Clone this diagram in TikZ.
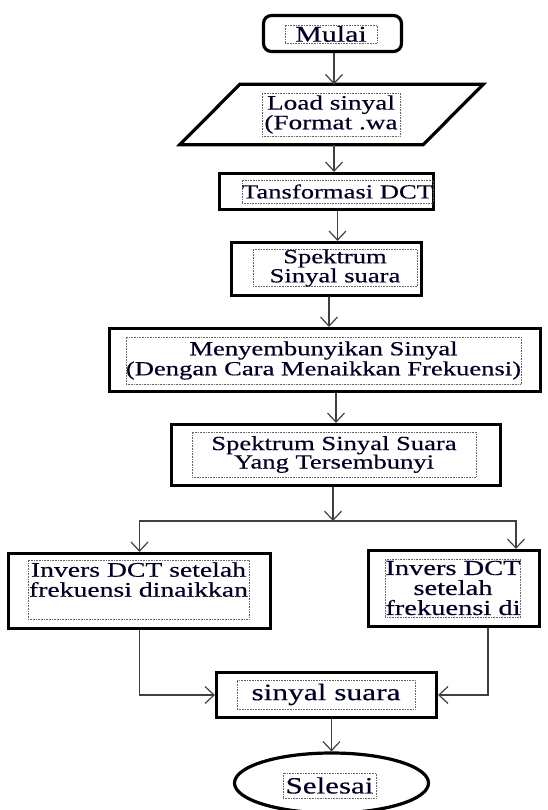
\documentclass[tikz,border=0pt]{standalone}
\usepackage{fontspec}
\setmainfont{Liberation Serif}[FakeStretch=1.33, FakeBold=0.4]
\usepackage{tikz}
\usetikzlibrary{positioning, arrows.meta, shapes.geometric}

\begin{document}
\begin{tikzpicture}[x=1pt, y=-1pt,
    kotak/.style={draw, line width=3.2pt, inner sep=0pt},
    terminal/.style={kotak, rounded corners=8pt},
    akhir/.style={kotak, ellipse},
    teks/.style={draw=black!60, densely dotted, line width=0.6pt, inner sep=0pt, align=center, text=black!85!blue, font=\fontsize{20}{19.5}\selectfont},
    arr/.style={-{Straight Barb[length=9pt, width=17pt]}, line width=1.2pt, draw=black!75},
]
\useasboundingbox (0,0) rectangle (548,810);

% --- Shapes ---
\node[terminal, minimum width=138pt, minimum height=36pt] (mulai) at (332.5, 33.5) {};
\node[minimum width=243pt, minimum height=60pt, inner sep=0pt] (load) at (331.5, 114.5) {};
\draw[kotak] ([xshift=-30pt]load.south west) -- ([xshift=-30pt]load.south east)
    -- ([xshift=30pt]load.north east) -- ([xshift=30pt]load.north west) -- cycle;
\node[kotak, minimum width=214pt, minimum height=36pt] (tdct) at (326.5, 191.5) {};
\node[kotak, minimum width=190pt, minimum height=53pt] (spek) at (326.5, 269) {};
\node[kotak, minimum width=431pt, minimum height=63pt] (sembunyi) at (325, 360) {};
\node[kotak, minimum width=329pt, minimum height=61pt] (tersembunyi) at (336, 455) {};
\node[kotak, minimum width=262pt, minimum height=75pt] (invkiri) at (139.5, 591) {};
\node[kotak, minimum width=171pt, minimum height=76pt] (invkanan) at (454, 588.5) {};
\node[kotak, minimum width=220pt, minimum height=45pt] (sinyal) at (326.5, 695) {};
\node[akhir, minimum width=194pt, minimum height=60pt] (selesai) at (331.5, 783) {};

% --- Texts (dotted text boxes) ---
\node[teks, minimum width=92pt, minimum height=18pt, font=\fontsize{22.5}{22}\selectfont] (mulaiT) at (331, 34) {Mulai};
\node[teks, minimum width=138pt, minimum height=43pt, font=\fontsize{20.5}{18.5}\selectfont] (loadT) at (331, 114.5) {Load sinyal\\(Format .wa};
\node[teks, minimum width=191pt, minimum height=23pt] (tdctT) at (337.5, 191.5) {Tansformasi DCT};
\node[teks, minimum width=164pt, minimum height=36pt, font=\fontsize{20}{18}\selectfont] (spekT) at (335, 268) {Spektrum\\Sinyal suara};
\node[teks, minimum width=387pt, minimum height=47pt, font=\fontsize{20}{20}\selectfont] (sembunyiT) at (323.5, 360.5) {Menyembunyikan Sinyal\\(Dengan Cara Menaikkan Frekuensi)};
\node[teks, minimum width=284pt, minimum height=45pt, font=\fontsize{20}{18.5}\selectfont] (tersembunyiT) at (334, 454.5) {Spektrum Sinyal Suara\\Yang Tersembunyi};
\node[teks, minimum width=221pt, minimum height=59pt, font=\fontsize{20.8}{20}\selectfont] (invkiriT) at (138.5, 589.5) {Invers DCT setelah\\frekuensi dinaikkan\\~};
\node[teks, minimum width=128pt, minimum height=58pt, font=\fontsize{21.4}{20}\selectfont] (invkananT) at (453, 588) {Invers DCT\\setelah\\frekuensi di};
\node[teks, minimum width=178pt, minimum height=29pt, font=\fontsize{23.6}{23}\selectfont] (sinyalT) at (326, 694.5) {sinyal suara};
\node[teks, minimum width=93pt, minimum height=25pt, font=\fontsize{23.3}{23}\selectfont] (selesaiT) at (329.5, 785.5) {Selesai};

% --- Connectors ---
\coordinate (cabang) at (333, 521);
\draw[arr] ([xshift=1.5pt]mulai.south) -- ([xshift=1.5pt]mulai.south |- load.north);
\draw[arr] ([xshift=2.5pt]load.south) -- ([xshift=2.5pt]load.south |- tdct.north);
\draw[arr] (tdct.south -| tdctT) -- (spek.north -| tdctT);
\draw[arr] ([xshift=2.5pt]spek.south) -- ([xshift=2.5pt]spek.south |- sembunyi.north);
\draw[arr] (sembunyi.south -| tersembunyi) -- (tersembunyi.north);
\draw[arr] (tersembunyi.south -| cabang) -- (cabang);
\draw[arr] (cabang) -| (invkiri.north);
\draw[arr] (cabang) -| ([xshift=62pt]invkanan.north);
\draw[arr] (invkiri.south) |- (sinyal.west);
\draw[arr] ([xshift=34pt]invkanan.south) |- (sinyal.east);
\draw[arr] (sinyal.south -| selesai) -- (selesai.north);

\end{tikzpicture}
\end{document}
